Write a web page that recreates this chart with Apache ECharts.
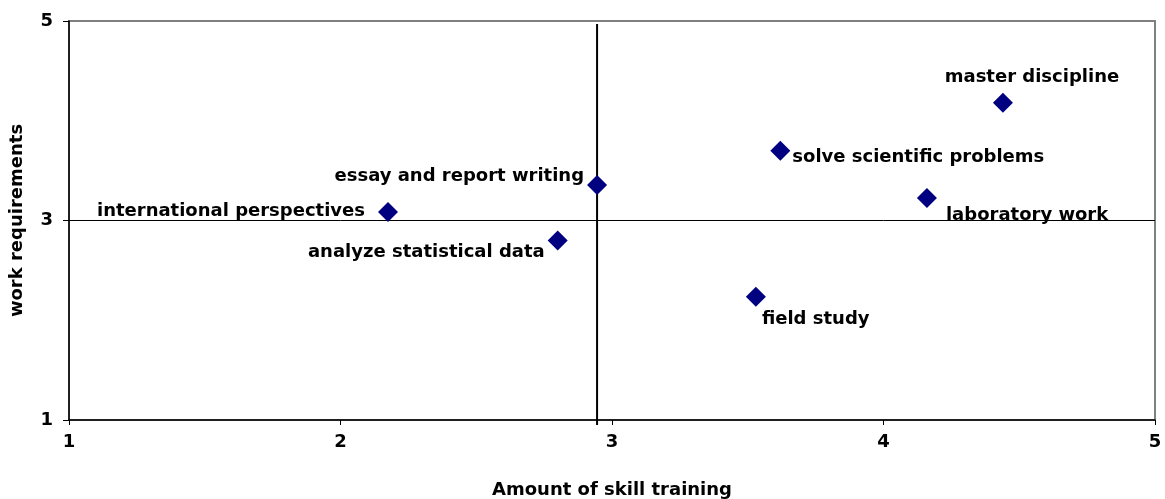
<!DOCTYPE html>
<html>
<head>
<meta charset="utf-8">
<script src="https://cdn.jsdelivr.net/npm/echarts@6/dist/echarts.min.js"></script>
<style>
html,body{margin:0;padding:0;background:#fff;}
#chart{width:1165px;height:499px;}
</style>
</head>
<body>
<div id="chart"></div>
<script>
// ---- data ----
const skills = ["master discipline", "solve scientific problems", "laboratory work", "field study",
                "essay and report writing", "international perspectives", "analyze statistical data"];
const skillTraining = [4.44, 3.62, 4.16, 3.53, 2.945, 2.175, 2.80];
const workRequirements = [4.18, 3.70, 3.225, 2.235, 3.355, 3.085, 2.80];
const refX = 2.945;   // vertical reference line
const refY = 3;       // horizontal reference line
const xTicks = [1, 2, 3, 4, 5];
const yTicks = [1, 3, 5];

// ---- label placement (style, not data) ----
const labelPlacement = [
  {align: 'center', offset: [29, -25]},
  {align: 'left', offset: [12, 7]},
  {align: 'left', offset: [19, 17]},
  {align: 'left', offset: [6, 23]},
  {align: 'right', offset: [-13, -9]},
  {align: 'right', offset: [-23, -1]},
  {align: 'right', offset: [-13, 12]}
];

const FONT = 'DejaVu Sans';
const points = skills.map((name, i) => ({
  name: name,
  value: [skillTraining[i], workRequirements[i]],
  label: {
    show: true, position: 'inside', formatter: name,
    align: labelPlacement[i].align, verticalAlign: 'middle',
    offset: labelPlacement[i].offset, opacity: 1,
    color: '#000', fontFamily: FONT, fontWeight: 'bold', fontSize: 18
  }
}));

const chart = echarts.init(document.getElementById('chart'), null, {renderer: 'canvas'});
chart.setOption({
  animation: false,
  backgroundColor: '#fff',
  grid: {left: 69, right: 10, top: 21, bottom: 79, containLabel: false, outerBoundsMode: 'none',
         show: true, borderColor: '#808080', borderWidth: 2, backgroundColor: 'transparent'},
  xAxis: {
    type: 'value', min: xTicks[0], max: xTicks[xTicks.length - 1], interval: 1,
    name: 'Amount of skill training', nameLocation: 'middle', nameGap: 61,
    nameTextStyle: {fontFamily: FONT, fontWeight: 'bold', fontSize: 18, color: '#000'},
    axisLine: {show: true, onZero: false, lineStyle: {color: '#000', width: 1.5}},
    axisTick: {show: true, length: 5, lineStyle: {color: '#000'}},
    axisLabel: {fontFamily: FONT, fontWeight: 'bold', fontSize: 18, color: '#000', margin: 13},
    splitLine: {show: false}
  },
  yAxis: {
    type: 'value', min: yTicks[0], max: yTicks[yTicks.length - 1], interval: 2,
    name: 'work requirements', nameLocation: 'middle', nameGap: 43,
    nameTextStyle: {fontFamily: FONT, fontWeight: 'bold', fontSize: 18, color: '#000'},
    axisLine: {show: true, onZero: false, lineStyle: {color: '#000', width: 1.5}},
    axisTick: {show: true, length: 6, lineStyle: {color: '#000'}},
    axisLabel: {fontFamily: FONT, fontWeight: 'bold', fontSize: 18, color: '#000', margin: 16},
    splitLine: {show: false}
  },
  series: [
    {
      type: 'line', data: [[xTicks[0], refY], [xTicks[xTicks.length - 1], refY]],
      symbol: 'none', lineStyle: {color: '#000', width: 1}, silent: true, z: 1
    },
    {
      type: 'line', data: [[refX, 0.95], [refX, 4.97]], clip: false,
      symbol: 'none', lineStyle: {color: '#000', width: 2}, silent: true, z: 1
    },
    {
      type: 'scatter', data: points, symbol: 'diamond', symbolSize: 20,
      itemStyle: {color: '#000080', opacity: 1}, z: 3
    }
  ]
});
</script>
</body>
</html>
